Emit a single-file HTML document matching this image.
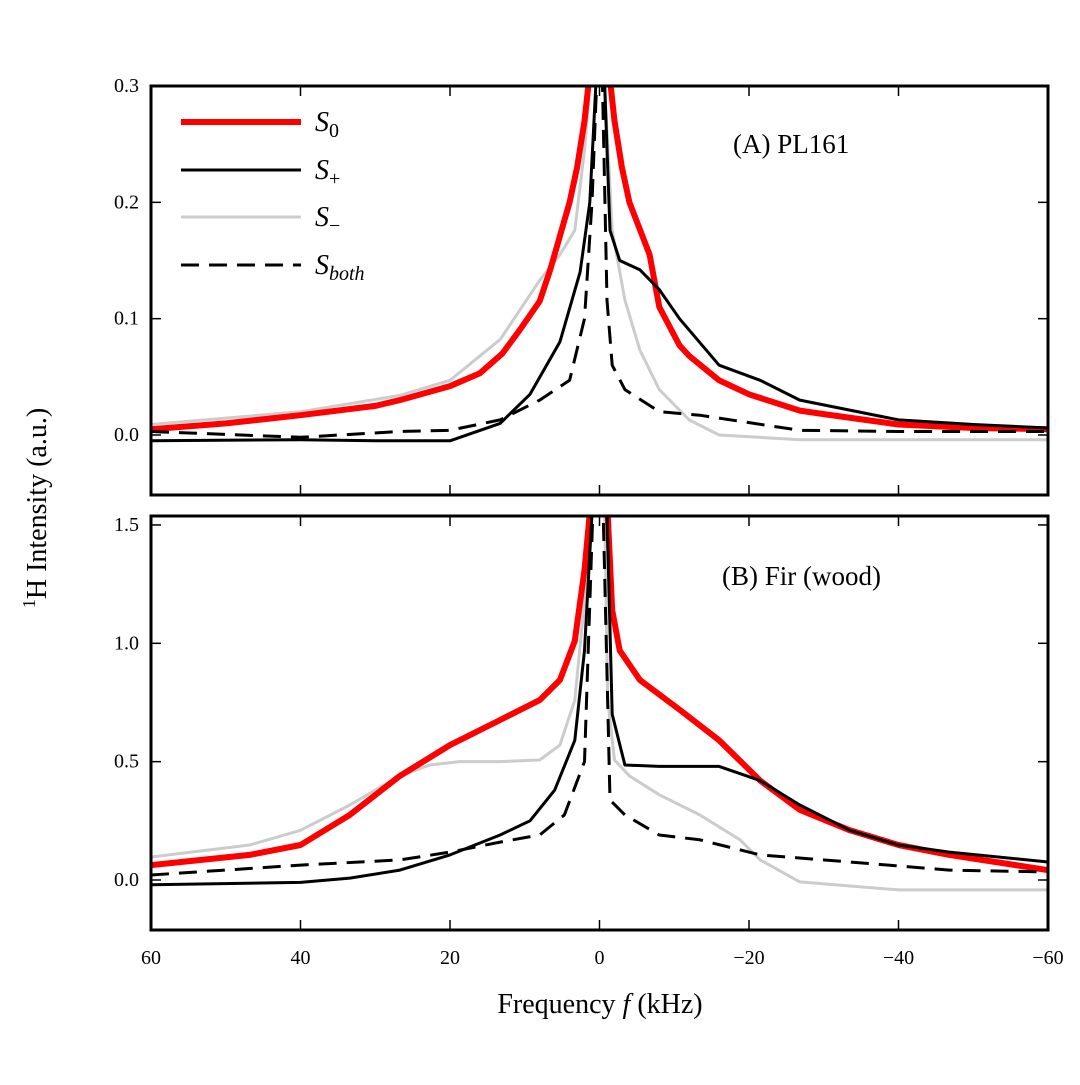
<!DOCTYPE html>
<html><head><meta charset="utf-8"><style>
body{margin:0;background:#fff}
svg text{font-family:"Liberation Serif","DejaVu Serif",serif;fill:#000}
</style></head><body>
<svg id="chart" width="1080" height="1080" viewBox="0 0 1080 1080" xmlns="http://www.w3.org/2000/svg">
<defs>
<clipPath id="clipA"><rect x="151" y="86" width="897" height="409"/></clipPath>
<clipPath id="clipB"><rect x="151" y="516" width="897" height="414"/></clipPath>
</defs>
<g id="panelA"></g>
<g id="panelB"></g>
<text transform="translate(46,508) rotate(-90)" text-anchor="middle" font-size="28"><tspan font-size="18" dy="-11">1</tspan><tspan dy="11">H Intensity (a.u.)</tspan></text>
<text x="600" y="1013" text-anchor="middle" font-size="28">Frequency <tspan font-style="italic">f</tspan> (kHz)</text>
<g>
<line x1="181" y1="122" x2="301" y2="122" stroke="#f00" stroke-width="6"/>
<text x="315" y="131" font-size="28" font-style="italic">S<tspan font-size="20" dy="6" font-style="normal">0</tspan></text>
<line x1="181" y1="170" x2="301" y2="170" stroke="#000" stroke-width="3"/>
<text x="315" y="179" font-size="28" font-style="italic">S<tspan font-size="20" dy="6" font-style="normal">+</tspan></text>
<line x1="181" y1="217" x2="301" y2="217" stroke="#ccc" stroke-width="3"/>
<text x="315" y="226" font-size="28" font-style="italic">S<tspan font-size="20" dy="6" font-style="normal">−</tspan></text>
<line x1="181" y1="265" x2="301" y2="265" stroke="#000" stroke-width="3" stroke-dasharray="18,10"/>
<text x="315" y="274" font-size="28" font-style="italic">S<tspan font-size="20" dy="6">both</tspan></text>
</g>
<text x="733" y="153" font-size="27">(A) PL161</text>
<text x="722" y="585" font-size="27">(B) Fir (wood)</text>
</svg>
<script>
// Panel A data (freq kHz, intensity)
const aS0F=[60,50,40,30,26.7,20,16,13,10.7,8,6.6,4,3,2,1.5,1,0,-1,-1.5,-2,-3,-4,-6.7,-8,-10.7,-12,-16,-20,-26.8,-30,-40,-50,-60];
const aS0V=[0.005,0.01,0.017,0.025,0.03,0.042,0.053,0.07,0.09,0.115,0.142,0.2,0.23,0.27,0.3,0.4,0.45,0.4,0.3,0.27,0.23,0.2,0.155,0.11,0.077,0.068,0.047,0.035,0.021,0.018,0.009,0.006,0.005];
const aSpF=[60,40,30,20,13.3,9.3,5.3,2.6,1.3,0.5,0,-0.7,-1.4,-2.7,-5.4,-8,-10.7,-16,-21.5,-26.8,-40,-50,-60];
const aSpV=[-0.005,-0.004,-0.005,-0.005,0.01,0.035,0.08,0.14,0.2,0.3,0.45,0.3,0.176,0.15,0.142,0.125,0.1,0.06,0.047,0.03,0.013,0.009,0.006];
const aSmF=[60,40,26.7,20,13.3,8,5.3,3.3,2,1.3,0,-0.7,-1.7,-3.4,-5.4,-8,-12,-16,-26.8,-40,-60];
const aSmV=[0.009,0.02,0.034,0.047,0.082,0.133,0.155,0.176,0.245,0.3,0.45,0.3,0.176,0.116,0.073,0.039,0.013,0,-0.004,-0.004,-0.004];
const aSbF=[60,40,26.7,20,13.3,8,4,2,1,0.4,0,-0.4,-1,-1.7,-3.4,-8,-13.4,-26.8,-40,-60];
const aSbV=[0.003,-0.002,0.003,0.004,0.013,0.03,0.047,0.1,0.2,0.3,0.45,0.3,0.116,0.06,0.039,0.02,0.017,0.004,0.003,0.003];
// Panel B data
const bS0F=[60,46.8,40,33.4,26.7,20,13.3,8,5.3,3.3,2,1.3,0,-1.1,-1.7,-2.7,-5.4,-10.7,-16,-21.5,-26.8,-33.5,-40,-46.8,-60];
const bS0V=[0.063,0.106,0.148,0.275,0.44,0.57,0.676,0.76,0.845,1.01,1.31,1.55,2.0,1.55,1.14,0.97,0.845,0.72,0.59,0.42,0.296,0.21,0.148,0.106,0.042];
const bSpF=[60,40,33.4,26.7,20,13.3,9.3,6,3.3,2,1,0,-1,-1.7,-3.4,-8,-16,-21.5,-26.8,-33.5,-40,-46.8,-60];
const bSpV=[-0.02,-0.01,0.008,0.042,0.106,0.19,0.25,0.38,0.59,0.97,1.55,2.0,1.55,0.7,0.486,0.48,0.48,0.42,0.317,0.21,0.148,0.118,0.076];
const bSmF=[60,46.8,40,33.4,26.7,22.7,18.7,13.3,8,5.3,3.3,2,1.3,0,-0.7,-1.1,-2,-4,-8,-13.4,-18.8,-21.5,-26.8,-40,-60];
const bSmV=[0.097,0.148,0.21,0.317,0.44,0.486,0.5,0.5,0.507,0.57,0.76,1.18,1.55,2.0,1.55,0.76,0.507,0.44,0.36,0.275,0.17,0.085,-0.008,-0.042,-0.042];
const bSbF=[60,40,26.7,20,13.3,8,4.7,2,0.9,0,-0.5,-1.4,-3.4,-8,-13.4,-21.5,-33.5,-46.8,-60];
const bSbV=[0.021,0.063,0.085,0.118,0.16,0.19,0.275,0.5,1.55,2.0,1.55,0.338,0.275,0.19,0.17,0.106,0.076,0.042,0.034];
const xTicks=[60,40,20,0,-20,-40,-60];
const aYTicks=[0.0,0.1,0.2,0.3];
const bYTicks=[0.0,0.5,1.0,1.5];

const NS='http://www.w3.org/2000/svg';
const X0=151,X1=1048;
function xScale(f){return X0+(60-f)/120*(X1-X0);}
function yA(v){return 435-v*1163.3;}
function yB(v){return 880-v*236.7;}
function mk(tag,attrs,parent){const e=document.createElementNS(NS,tag);for(const k in attrs)e.setAttribute(k,attrs[k]);parent.appendChild(e);return e;}
function line(parent,fs,vs,ys,clip,stroke,w,dash,name){
  const d=fs.map((f,i)=>(i?'L':'M')+xScale(f).toFixed(1)+','+ys(vs[i]).toFixed(1)).join('');
  const p=mk('path',{d:d,fill:'none',stroke:stroke,'stroke-width':w,'clip-path':'url(#'+clip+')','stroke-linejoin':'round'},parent);
  if(dash)p.setAttribute('stroke-dasharray',dash);
  
  
}
function axes(parent,top,bot,ys,yt,dec,showX,prefix){
  for(const f of xTicks){
    const t=mk('line',{x1:xScale(f),x2:xScale(f),y1:bot,y2:bot-10,stroke:'#000','stroke-width':1.5},parent);
    
    
    const t2=mk('line',{x1:xScale(f),x2:xScale(f),y1:top,y2:top+10,stroke:'#000','stroke-width':1.5},parent);
    
    
    if(showX){
      const l=mk('text',{x:xScale(f),y:bot+34,'text-anchor':'middle','font-size':20},parent);
      l.textContent=f<0?'\u2212'+(-f):String(f);
      
      
    }
  }
  for(const v of yt){
    const y=ys(v);
    const t=mk('line',{x1:X0,x2:X0+10,y1:y,y2:y,stroke:'#000','stroke-width':1.5},parent);
    
    
    const t2=mk('line',{x1:X1,x2:X1-10,y1:y,y2:y,stroke:'#000','stroke-width':1.5},parent);
    
    
    const l=mk('text',{x:X0-12,y:y+6,'text-anchor':'end','font-size':20},parent);
    l.textContent=v.toFixed(1);
    
    
  }
  const r=mk('rect',{x:X0,y:top,width:X1-X0,height:bot-top,fill:'none',stroke:'#000','stroke-width':3},parent);
  
  
}
const pA=document.getElementById('panelA'),pB=document.getElementById('panelB');
line(pA,aSmF,aSmV,yA,'clipA','#ccc',3,null,'a-series-s-minus');
line(pA,aS0F,aS0V,yA,'clipA','#f00',6,null,'a-series-s0');
line(pA,aSpF,aSpV,yA,'clipA','#000',3,null,'a-series-s-plus');
line(pA,aSbF,aSbV,yA,'clipA','#000',3,'18,10','a-series-s-both');
axes(pA,86,495,yA,aYTicks,1,false,'a');
line(pB,bSmF,bSmV,yB,'clipB','#ccc',3,null,'b-series-s-minus');
line(pB,bS0F,bS0V,yB,'clipB','#f00',6,null,'b-series-s0');
line(pB,bSpF,bSpV,yB,'clipB','#000',3,null,'b-series-s-plus');
line(pB,bSbF,bSbV,yB,'clipB','#000',3,'18,10','b-series-s-both');
axes(pB,516,930,yB,bYTicks,1,true,'b');
</script>
</body></html>
